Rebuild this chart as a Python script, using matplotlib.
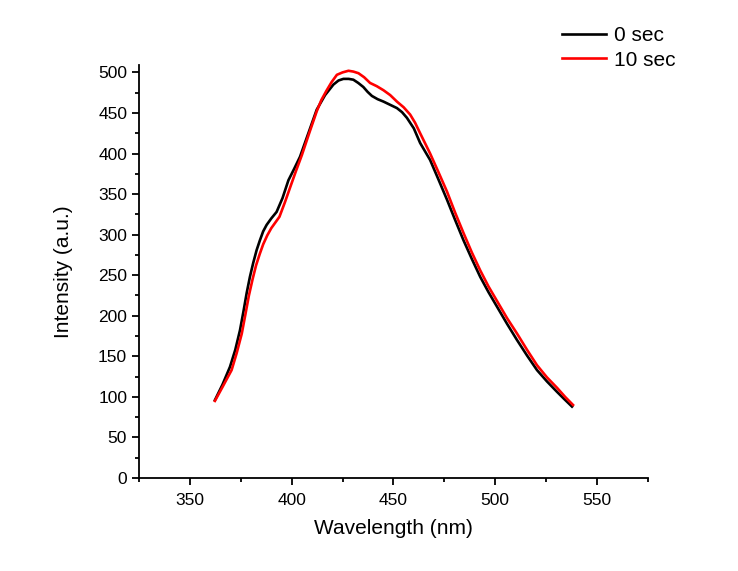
import numpy as np
import matplotlib
import matplotlib.pyplot as plt
from matplotlib.ticker import MultipleLocator

plt.rcParams['font.family'] = ['Liberation Sans', 'DejaVu Sans']

# 0 sec spectrum
wl_0 = [362.3, 366, 369.7, 372.3, 374.6, 376.3, 377.9, 379.5, 381.1, 382.8, 384.4,
        386, 387.7, 390, 392.6, 395.5, 398.4, 401.2, 404.1, 408.2, 412.3, 416.4,
        420.5, 423, 425.4, 428, 430.3, 432.7, 435.2, 437.3, 439.4, 442.2, 445.1,
        448.4, 451.7, 454.2, 456.6, 460, 463.1, 468, 472.1, 476.3, 480.3, 484.4,
        488.5, 492.6, 496.7, 500.9, 505.8, 510.7, 515.6, 520.5, 525.4, 530.4, 534, 537.7]
int_0 = [96, 115, 137, 158, 182, 205, 228, 248, 265, 281, 293,
         304, 312, 320, 328, 345, 367, 381, 396, 425, 454, 472,
         485, 490, 492, 492, 491, 487, 482, 476, 471, 467, 464,
         460, 456, 451, 444, 431, 413, 392, 368, 343, 318, 293,
         270, 248, 229, 211, 190, 170, 151, 133, 119, 106, 97, 88]

# 10 sec spectrum
wl_10 = [362.3, 366, 370.5, 373, 375.5, 377.3, 379, 380.8, 382.5, 384.3, 386,
         388, 390, 392, 394, 396.7, 399.5, 402.2, 405, 408.6, 412.3, 414.6, 417,
         419.6, 422.2, 425, 427.9, 430.3, 432.8, 435.6, 438.5, 441.8, 445.1,
         448.4, 451.7, 455, 458.2, 460.6, 463.1, 468, 472.1, 476.3, 480.3, 484.4,
         488.5, 492.6, 496.7, 500.9, 505.8, 510.7, 515.6, 520.5, 525.4, 530.4, 534.3, 538.2]
int_10 = [95, 112, 133, 154, 178, 202, 225, 245, 262, 276, 288,
          299, 308, 315, 322, 340, 360, 379, 398, 425, 452, 466, 477,
          488, 497, 500, 502, 501, 499, 494, 487, 483, 478,
          472, 464, 457, 448, 438, 425, 400, 377, 353, 327, 302,
          278, 256, 236, 218, 197, 178, 158, 139, 124, 111, 100, 90]

fig = plt.figure(figsize=(7.38, 5.71), dpi=100)
ax = fig.add_axes([0.1883, 0.1629, 0.6897, 0.7231])

ax.plot(wl_0, int_0, color='black', lw=1.9, label='0 sec', solid_joinstyle='round')
ax.plot(wl_10, int_10, color='red', lw=1.9, label='10 sec', solid_joinstyle='round')

ax.set_xlim(325, 575)
ax.set_ylim(0, 509)
ax.xaxis.set_major_locator(MultipleLocator(50))
ax.xaxis.set_minor_locator(MultipleLocator(25))
ax.yaxis.set_major_locator(MultipleLocator(50))
ax.yaxis.set_minor_locator(MultipleLocator(25))
ax.spines['top'].set_visible(False)
ax.spines['right'].set_visible(False)
for s in ('left', 'bottom'):
    ax.spines[s].set_linewidth(1.3)
ax.tick_params(which='major', direction='out', length=5, width=1.3, labelsize=12.5, colors='black')
ax.tick_params(which='minor', direction='out', length=3, width=1.3)
ax.tick_params(axis='x', pad=6)

ax.set_xlabel('Wavelength (nm)', fontsize=15, labelpad=8)
ax.set_ylabel('Intensity (a.u.)', fontsize=15, labelpad=18)

fig.legend(loc='upper right', bbox_to_anchor=(0.941, 0.9865), frameon=False,
           fontsize=15, handlelength=2.1, handletextpad=0.4, labelspacing=0.25)

fig.savefig('out.png', dpi=100)
